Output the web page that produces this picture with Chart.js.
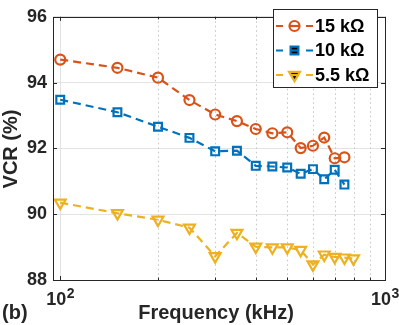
<!DOCTYPE html>
<html>
<head>
<meta charset="utf-8">
<script src="https://cdn.jsdelivr.net/npm/chart.js@4/dist/chart.umd.min.js"></script>
<style>
  html, body { margin: 0; padding: 0; background: #fff; }
  #wrap { width: 399px; height: 325px; }
</style>
</head>
<body>
<div id="wrap"><canvas id="vcr-chart" width="399" height="325"></canvas></div>
<script>
// data (frequency in kHz, VCR in %)
const freq15 = [100, 150, 200, 250, 300, 350, 400, 450, 500, 550, 600, 650, 700, 750];
const vcr15 = [94.70, 94.45, 94.15, 93.47, 93.03, 92.83, 92.59, 92.46, 92.49, 92.01, 92.08, 92.33, 91.70, 91.73];

const freq10 = [100, 150, 200, 250, 300, 350, 400, 450, 500, 550, 600, 650, 700, 750];
const vcr10 = [93.48, 93.10, 92.66, 92.32, 91.91, 91.93, 91.47, 91.45, 91.42, 91.23, 91.37, 91.06, 91.35, 90.90];

const freq55 = [100, 150, 200, 250, 300, 350, 400, 450, 500, 550, 600, 650, 700, 750, 800];
const vcr55 = [90.35, 90.03, 89.83, 89.59, 88.72, 89.43, 89.01, 88.99, 88.99, 88.91, 88.47, 88.77, 88.70, 88.68, 88.65];

const seriesLabels = ['15 kΩ', '10 kΩ', '5.5 kΩ'];
const yTicks = [88, 90, 92, 94, 96];
const xMajorTicks = [100, 1000];
const xMinorTicks = [200, 300, 400, 500, 600, 700, 800, 900];
const xTickExponents = ['2', '3'];

const FONT = '"Liberation Sans", Arial, Helvetica, sans-serif';
const AXIS = '#262626';

function toPoints(xs, ys) {
    return xs.map((f, i) => ({ x: f, y: ys[i] }));
}

function dataset(label, xs, ys, color, style, radius, rotation) {
    return {
        label: label,
        data: toPoints(xs, ys),
        borderColor: color,
        backgroundColor: 'transparent',
        borderWidth: 2.2,
        borderDash: [8, 5],
        tension: 0,
        fill: false,
        pointStyle: style,
        pointRadius: radius,
        pointRotation: rotation,
        pointBorderWidth: 2.2,
        pointBorderColor: color,
        pointBackgroundColor: 'transparent',
        clip: false
    };
}

// MATLAB-style box, inward ticks, minor dotted grid, legend and titles
const matlabAxes = {
    id: 'matlabAxes',
    beforeDatasetsDraw(chart) {
        const { ctx, chartArea: a, scales: { x } } = chart;
        ctx.save();
        ctx.strokeStyle = '#c4c4c4';
        ctx.lineWidth = 1;
        ctx.setLineDash([1.5, 3]);
        xMinorTicks.forEach(v => {
            const px = Math.round(x.getPixelForValue(v)) + 0.5;
            ctx.beginPath();
            ctx.moveTo(px, a.top);
            ctx.lineTo(px, a.bottom);
            ctx.stroke();
        });
        ctx.restore();
    },
    afterDraw(chart) {
        const { ctx, chartArea: a, scales: { x, y } } = chart;
        ctx.save();

        // box
        ctx.strokeStyle = AXIS;
        ctx.lineWidth = 1;
        ctx.strokeRect(Math.round(a.left) + 0.5, Math.round(a.top) + 0.5,
            Math.round(a.right - a.left), Math.round(a.bottom - a.top));

        // inward ticks
        ctx.beginPath();
        yTicks.forEach(v => {
            const py = Math.round(y.getPixelForValue(v)) + 0.5;
            ctx.moveTo(a.left, py); ctx.lineTo(a.left + 4, py);
            ctx.moveTo(a.right, py); ctx.lineTo(a.right - 4, py);
        });
        xMajorTicks.forEach(v => {
            const px = Math.round(x.getPixelForValue(v)) + 0.5;
            ctx.moveTo(px, a.bottom); ctx.lineTo(px, a.bottom - 4);
            ctx.moveTo(px, a.top); ctx.lineTo(px, a.top + 4);
        });
        xMinorTicks.forEach(v => {
            const px = Math.round(x.getPixelForValue(v)) + 0.5;
            ctx.moveTo(px, a.bottom); ctx.lineTo(px, a.bottom - 2.5);
            ctx.moveTo(px, a.top); ctx.lineTo(px, a.top + 2.5);
        });
        ctx.stroke();

        // x tick labels as 10^n with real superscripts
        ctx.fillStyle = AXIS;
        ctx.textBaseline = 'alphabetic';
        ctx.textAlign = 'left';
        xMajorTicks.forEach((v, i) => {
            const px = x.getPixelForValue(v);
            ctx.font = 'bold 18px ' + FONT;
            const wb = ctx.measureText('10').width;
            ctx.font = 'bold 14px ' + FONT;
            const we = ctx.measureText(xTickExponents[i]).width;
            const left = px - (wb + we) / 2;
            ctx.font = 'bold 18px ' + FONT;
            ctx.fillText('10', left, 305);
            ctx.font = 'bold 14px ' + FONT;
            ctx.fillText(xTickExponents[i], left + wb + 0.5, 297.5);
        });

        // legend
        const lx = 273, ly = 9, lw = 104, lh = 78;
        ctx.fillStyle = '#fff';
        ctx.fillRect(lx, ly, lw, lh);
        ctx.strokeStyle = AXIS;
        ctx.lineWidth = 1;
        ctx.strokeRect(lx + 0.5, ly + 0.5, lw, lh);
        ctx.font = 'bold 18px ' + FONT;
        ctx.textBaseline = 'middle';
        ctx.textAlign = 'left';
        chart.data.datasets.forEach((ds, i) => {
            const cy = 26 + i * 24.5;
            ctx.strokeStyle = ds.borderColor;
            ctx.lineWidth = 2.2;
            ctx.setLineDash([]);
            ctx.beginPath();
            ctx.moveTo(276, cy); ctx.lineTo(283, cy);
            ctx.moveTo(306, cy); ctx.lineTo(313, cy);
            ctx.stroke();
            Chart.helpers.drawPoint(ctx, {
                pointStyle: ds.pointStyle,
                radius: ds.pointRadius,
                rotation: ds.pointRotation,
                borderWidth: 2.2
            }, 294.5, cy);
            ctx.beginPath();
            ctx.moveTo(290, cy); ctx.lineTo(299, cy);
            ctx.stroke();
            ctx.fillStyle = '#000';
            ctx.fillText(ds.label, 315, cy + 1);
        });

        // titles
        ctx.fillStyle = AXIS;
        ctx.font = 'bold 20px ' + FONT;
        ctx.textAlign = 'center';
        ctx.fillText('Frequency (kHz)', 216, 313);
        ctx.textAlign = 'left';
        ctx.fillText('(b)', 2, 313);
        ctx.translate(11, 149);
        ctx.rotate(-Math.PI / 2);
        ctx.textAlign = 'center';
        ctx.fillText('VCR (%)', 0, 0);
        ctx.restore();
    }
};

const canvas = document.getElementById('vcr-chart');
const vcrChart = new Chart(canvas.getContext('2d'), {
    type: 'line',
    data: {
        datasets: [
            dataset(seriesLabels[0], freq15, vcr15, '#D95319', 'circle', 5, 0),
            dataset(seriesLabels[1], freq10, vcr10, '#0072BD', 'rect', 5.5, 0),
            dataset(seriesLabels[2], freq55, vcr55, '#EDB120', 'triangle', 6.3, 180)
        ]
    },
    options: {
        responsive: false,
        animation: false,
        layout: { padding: { left: 0, right: 14, top: 7, bottom: 0 } },
        plugins: {
            legend: { display: false },
            tooltip: { enabled: false }
        },
        scales: {
            x: {
                type: 'logarithmic',
                min: 95,
                max: 1000,
                afterBuildTicks: scale => { scale.ticks = xMajorTicks.map(v => ({ value: v })); },
                afterFit: scale => { scale.height = 45; },
                ticks: {
                    autoSkip: false,
                    maxRotation: 0,
                    callback: () => ''
                },
                grid: { color: '#e3e3e3', lineWidth: 1, drawTicks: false },
                border: { display: false }
            },
            y: {
                min: 88,
                max: 96,
                afterBuildTicks: scale => { scale.ticks = yTicks.map(v => ({ value: v })); },
                afterFit: scale => { scale.width = 53; },
                ticks: {
                    padding: 6,
                    color: AXIS,
                    font: { family: FONT, size: 18, weight: 'bold' }
                },
                grid: { color: '#e3e3e3', lineWidth: 1, drawTicks: false },
                border: { display: false }
            }
        }
    },
    plugins: [matlabAxes]
});
</script>
</body>
</html>
